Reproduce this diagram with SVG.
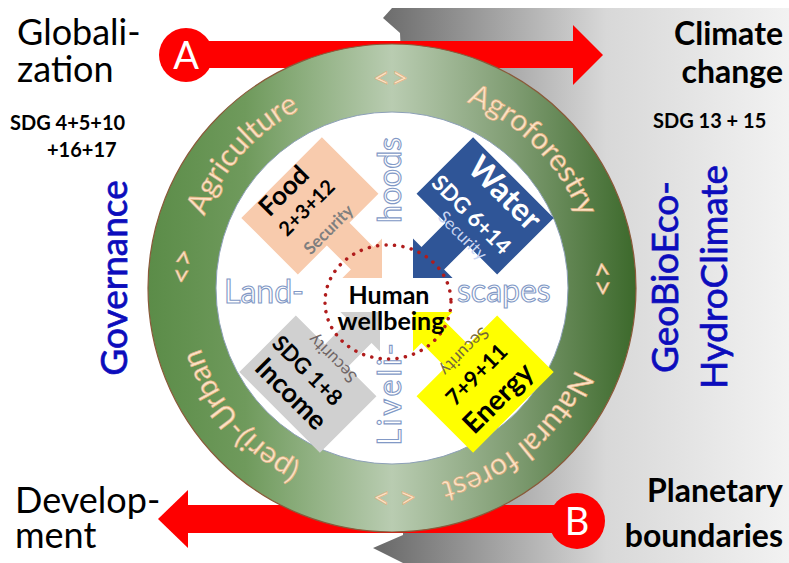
<svg xmlns="http://www.w3.org/2000/svg" xmlns:xlink="http://www.w3.org/1999/xlink" width="789" height="563" viewBox="0 0 789 563">
  <defs>
    <linearGradient id="grayBg" gradientUnits="userSpaceOnUse" x1="383" y1="0" x2="789" y2="0">
      <stop offset="0" stop-color="#6c6c6c"/>
      <stop offset="0.55" stop-color="#d8d8d8"/>
      <stop offset="1" stop-color="#f2f2f2"/>
    </linearGradient>
    <linearGradient id="ringFill" gradientUnits="userSpaceOnUse" x1="148" y1="0" x2="636" y2="0">
      <stop offset="0" stop-color="#5b8c48"/>
      <stop offset="0.2" stop-color="#6f9a5c"/>
      <stop offset="0.5" stop-color="#b9ccb1"/>
      <stop offset="0.75" stop-color="#7f9c72"/>
      <stop offset="1" stop-color="#3c692b"/>
    </linearGradient>
    <path id="ringPath" d="M357.27,484.96 A200,200 0 1,1 426.73,91.04 A200,200 0 1,1 357.27,484.96" fill="none"/>
    <polygon id="callout" points="0,0 28,-28 16,-28 16,-62 57,-62 57,-142 -57,-142 -57,-62 -16,-62 -16,-28 -28,-28"/>
    <style>
      text { font-family: Lato, "Liberation Sans", sans-serif; }
      .big { font-size: 36px; fill: #000; }
      .bigb { font-size: 32px; font-weight: bold; fill: #000; }
      .sdg { font-size: 20px; font-weight: bold; fill: #000; }
      .blue { font-size: 37px; fill: #0c0cbc; stroke: #0c0cbc; stroke-width: 0.7px; text-anchor: middle; }
      .ring { font-size: 30px; fill: #fce2c4; stroke: #e0ad7c; stroke-width: 0.6px; text-anchor: middle; }
      .outline { font-size: 32px; fill: #ffffff; stroke: #8299c6; stroke-width: 1.1px; }
      .lbl { font-weight: bold; text-anchor: middle; dominant-baseline: central; }
      .sec { text-anchor: middle; dominant-baseline: central; font-size: 17px; }
      .red { fill: #fe0000; }
      .letter { font-size: 38px; fill: #ffffff; text-anchor: middle; }
    </style>
  </defs>

  <!-- grey backdrop on the right half -->
  <polygon points="392,8 789,8 789,563 403,563 373,548 403,535 403,100 400,33 383,18" fill="url(#grayBg)"/>

  <!-- connectors: the two red arrows -->
  <g id="connectors">
    <g id="arrowA">
      <rect x="186" y="41" width="388" height="27" class="red"/>
      <polygon points="573,25 603,55 573,85" class="red"/>
      <circle cx="186" cy="55" r="27" class="red"/>
      <text x="186" y="69" class="letter">A</text>
    </g>
    <g id="arrowB">
      <rect x="187" y="505" width="390" height="28" class="red"/>
      <polygon points="188,490 158,519 188,548" class="red"/>
      <circle cx="577" cy="521" r="28" class="red"/>
      <text x="577" y="535" class="letter">B</text>
    </g>
  </g>

  <!-- outer land-use ring -->
  <g id="ring">
    <circle cx="392" cy="288" r="244" fill="url(#ringFill)" stroke="#8a5a3a" stroke-width="1.2"/>
    <circle cx="392" cy="288" r="176" fill="#ffffff" stroke="#8da0b8" stroke-width="1"/>
    <text class="ring"><textPath href="#ringPath" startOffset="139.6">(peri)-Urban</textPath></text>
    <text class="ring"><textPath href="#ringPath" startOffset="300.2">&lt;&gt;</textPath></text>
    <text class="ring"><textPath href="#ringPath" startOffset="425.9">Agriculture</textPath></text>
    <text class="ring"><textPath href="#ringPath" startOffset="593.4">&lt;&gt;</textPath></text>
    <text class="ring"><textPath href="#ringPath" startOffset="754">Agroforestry</textPath></text>
    <text class="ring"><textPath href="#ringPath" startOffset="900.6">&lt;&gt;</textPath></text>
    <text class="ring"><textPath href="#ringPath" startOffset="1083.9">Natural forest</textPath></text>
    <text class="ring"><textPath href="#ringPath" startOffset="1221.7">&lt; &gt;</textPath></text>
  </g>

  <!-- Livelihoods / Landscapes cross -->
  <g id="cross">
    <text x="224" y="303" class="outline">Land-</text>
    <text x="457" y="302" class="outline">scapes</text>
    <text transform="translate(401,180) rotate(-90)" class="outline" text-anchor="middle">hoods</text>
    <text transform="translate(401,393) rotate(-90)" class="outline" text-anchor="middle" letter-spacing="3">Liveli-</text>
  </g>

  <!-- four security quadrants -->
  <g id="food">
    <use href="#callout" transform="translate(382,278) rotate(-45)" fill="#f8cbad"/>
    <text class="lbl" transform="translate(283,190) rotate(-45)" font-size="26">Food</text>
    <text class="lbl" transform="translate(306,207) rotate(-45)" font-size="20">2+3+12</text>
    <text class="sec" transform="translate(328,229) rotate(-45)" fill="#7f7f7f" font-weight="bold">Security</text>
  </g>
  <g id="water">
    <use href="#callout" transform="translate(413,278) rotate(45)" fill="#2f5597"/>
    <text class="lbl" transform="translate(506,192) rotate(45)" font-size="32" fill="#ffffff">Water</text>
    <text class="lbl" transform="translate(472,214) rotate(45)" font-size="22" fill="#ffffff">SDG 6+14</text>
    <text class="sec" transform="translate(463,235) rotate(45)" fill="#c9d5f2">Security</text>
  </g>
  <g id="income">
    <use href="#callout" transform="translate(380,312) rotate(-135)" fill="#d0d0d0"/>
    <text class="lbl" transform="translate(308,370) rotate(45)" font-size="22">SDG 1+8</text>
    <text class="lbl" transform="translate(292,393) rotate(45)" font-size="27">Income</text>
    <text class="sec" transform="translate(332,359) rotate(-135)" fill="#6f6565">Security</text>
  </g>
  <g id="energy">
    <use href="#callout" transform="translate(413,312) rotate(135)" fill="#ffff00"/>
    <text class="lbl" transform="translate(476,374) rotate(-45)" font-size="22">7+9+11</text>
    <text class="lbl" transform="translate(497,397) rotate(-45)" font-size="28">Energy</text>
    <text class="sec" transform="translate(465,352) rotate(135)" fill="#76693a" font-size="16">Security</text>
  </g>

  <!-- centre -->
  <g id="wellbeing">
    <ellipse cx="388" cy="302" rx="63" ry="57" fill="none" stroke="#b01c1c" stroke-width="3.5" stroke-linecap="round" stroke-dasharray="0.1 8.4"/>
    <text x="389" y="294" class="lbl" font-size="25" dominant-baseline="auto">Human</text>
    <text x="391" y="320" class="lbl" font-size="25" dominant-baseline="auto">wellbeing</text>
  </g>

  <!-- corner labels -->
  <g id="globalization">
    <text x="17" y="45" class="big">Globali-</text>
    <text x="17" y="82" class="big">zation</text>
    <text x="10" y="130" class="sdg">SDG 4+5+10</text>
    <text x="47" y="157" class="sdg">+16+17</text>
  </g>
  <g id="climate">
    <text x="783" y="45" class="bigb" text-anchor="end">Climate</text>
    <text x="783" y="83" class="bigb" text-anchor="end">change</text>
    <text x="653" y="128" class="sdg" font-size="20.5">SDG 13 + 15</text>
  </g>
  <g id="development">
    <text x="15" y="513" class="big" font-size="35">Develop-</text>
    <text x="15" y="548" class="big" font-size="35">ment</text>
  </g>
  <g id="planetary">
    <text x="783" y="502" class="bigb" text-anchor="end">Planetary</text>
    <text x="783" y="547" class="bigb" text-anchor="end">boundaries</text>
  </g>
  <g id="governance">
    <text transform="translate(127,278) rotate(-90)" class="blue" font-size="38">Governance</text>
  </g>
  <g id="geobio">
    <text transform="translate(678,277) rotate(-90)" class="blue">GeoBioEco-</text>
    <text transform="translate(727,277) rotate(-90)" class="blue">HydroClimate</text>
  </g>
</svg>
